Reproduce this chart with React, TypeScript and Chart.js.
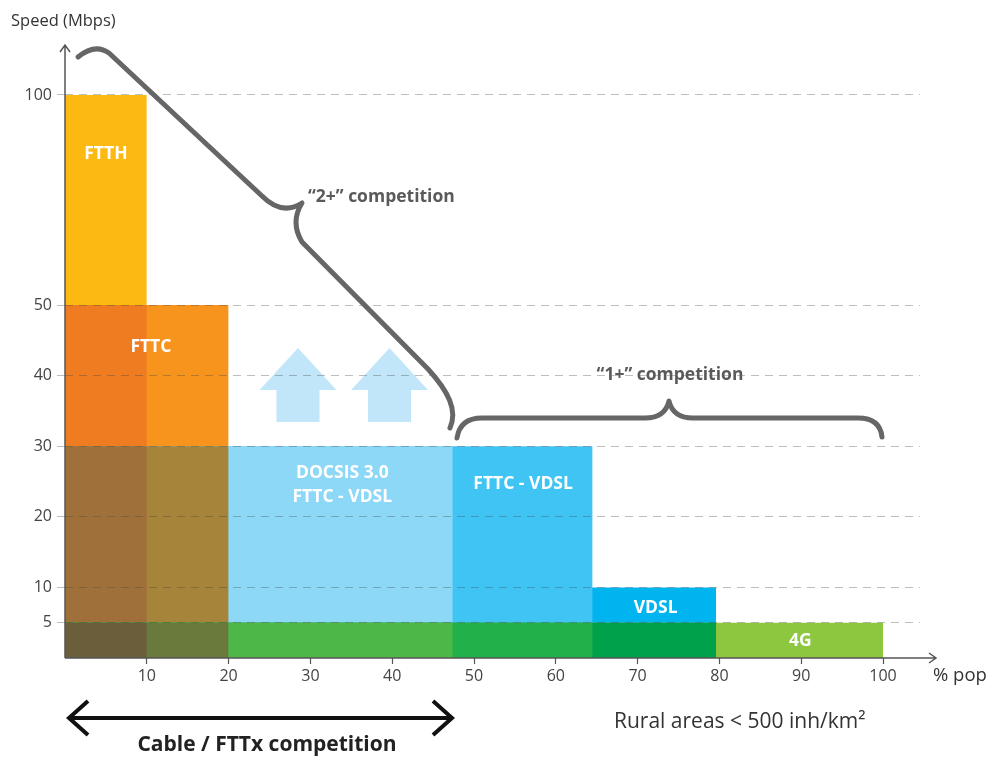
import { useEffect, useRef } from 'react';
import { Chart, registerables } from 'chart.js';

Chart.register(...registerables);

// ---- data ----
const segEdges = [0, 10, 20, 47.4, 64.5, 79.6, 100]; // % pop boundaries
const ftthSpeed = [100, null, null, null, null, null];
const fttcSpeed = [50, 50, null, null, null, null];
const ngaSpeed = [30, 30, 30, 30, 10, null];
const baseSpeed = [5, 5, 5, 5, 5, 5];
const yTickValues = [5, 10, 20, 30, 40, 50, 100];
const xTickValues = [10, 20, 30, 40, 50, 60, 70, 80, 90, 100];
const barLabels = ['FTTH', 'FTTC', 'DOCSIS 3.0|FTTC - VDSL', 'FTTC - VDSL', 'VDSL', '4G'];
const labelPop = [5, 10.5, 33.9, 56, 72.2, 89.9];
const labelSpeed = [86, 44, 24.5, 24.6, 7.1, 2.4];

// ---- styles ----
const ftthColors = ['#FCB912'];
const fttcColors = ['#F07C22', '#F7941E'];
const ngaColors = ['#A0703A', '#A6843A', '#8DD7F7', '#40C4F4', '#00B4EF'];
const baseColors = ['#6A5E3B', '#6A7A3C', '#4DB848', '#22B04B', '#00A14B', '#8DC63F'];

const UPPER_RATIO = 0.595; // axis compression above 50 Mbps
const warp = (v: number) => (v <= 50 ? v : 50 + (v - 50) * UPPER_RATIO);
const unwarp = (w: number) => (w <= 50 ? w : 50 + (w - 50) / UPPER_RATIO);

function buildDatasets() {
  const layers: [Array<number | null>, string[]][] = [
    [ftthSpeed, ftthColors],
    [fttcSpeed, fttcColors],
    [ngaSpeed, ngaColors],
    [baseSpeed, baseColors],
  ];
  const backToFront: any[] = [];
  layers.forEach(([speeds, colors]) => {
    const idx = speeds.map((v, i) => (v == null ? -1 : i)).filter((i) => i >= 0);
    if (!idx.length) return;
    const start = segEdges[idx[0]];
    // later segments sit underneath earlier ones and reach back to the layer start (no seams)
    for (let k = idx.length - 1; k >= 0; k--) {
      const i = idx[k];
      const v = speeds[i] as number;
      backToFront.push({
        data: [
          { x: start, y: warp(v) },
          { x: segEdges[i + 1], y: warp(v) },
        ],
        backgroundColor: colors[i],
        borderColor: 'rgba(0,0,0,0)',
        borderWidth: 0,
        pointRadius: 0,
        fill: 'origin',
        tension: 0,
      });
    }
  });
  return backToFront.reverse(); // front-most first
}

const FONT = "'Open Sans', 'DejaVu Sans', sans-serif";

function upArrow(ctx: CanvasRenderingContext2D, cx: number, tip: number, base: number, hw: number, sw: number, bottom: number) {
  ctx.beginPath();
  ctx.moveTo(cx, tip);
  ctx.lineTo(cx + hw, base);
  ctx.lineTo(cx + sw, base);
  ctx.lineTo(cx + sw, bottom);
  ctx.lineTo(cx - sw, bottom);
  ctx.lineTo(cx - sw, base);
  ctx.lineTo(cx - hw, base);
  ctx.closePath();
  ctx.fill();
}

const decorPlugin = {
  id: 'decor',
  beforeDatasetsDraw(chart: any) {
    const ctx = chart.ctx as CanvasRenderingContext2D;
    ctx.save();
    ctx.fillStyle = '#C2E6F9';
    upArrow(ctx, 298, 348, 390, 38.5, 21.5, 422);
    upArrow(ctx, 389.5, 348, 390, 38.5, 21.5, 422);
    ctx.restore();
  },
  afterDraw(chart: any) {
    const ctx = chart.ctx as CanvasRenderingContext2D;
    const xs = chart.scales.x;
    const ys = chart.scales.y;
    const area = chart.chartArea;
    ctx.save();

    // axes with arrows
    ctx.strokeStyle = '#555';
    ctx.lineWidth = 1.5;
    ctx.beginPath();
    ctx.moveTo(area.left, area.bottom);
    ctx.lineTo(area.left, area.top);
    ctx.moveTo(area.left - 5, area.top + 7);
    ctx.lineTo(area.left, area.top);
    ctx.lineTo(area.left + 5, area.top + 7);
    ctx.moveTo(area.left, area.bottom);
    ctx.lineTo(area.right + 16, area.bottom);
    ctx.moveTo(area.right + 9, area.bottom - 5);
    ctx.lineTo(area.right + 16, area.bottom);
    ctx.lineTo(area.right + 9, area.bottom + 5);
    ctx.stroke();

    // bar labels
    ctx.fillStyle = '#FFFFFF';
    ctx.font = `bold 17.5px ${FONT}`;
    ctx.textAlign = 'center';
    ctx.textBaseline = 'middle';
    barLabels.forEach((t, i) => {
      const px = xs.getPixelForValue(labelPop[i]);
      const py = ys.getPixelForValue(warp(labelSpeed[i]));
      const lines = t.split('|');
      lines.forEach((ln, k) => {
        ctx.fillText(ln, px, py + (k - (lines.length - 1) / 2) * 24);
      });
    });

    // braces
    ctx.strokeStyle = '#666';
    ctx.lineWidth = 5;
    ctx.lineCap = 'round';
    ctx.lineJoin = 'round';
    ctx.beginPath();
    ctx.moveTo(78, 57);
    ctx.quadraticCurveTo(95, 43, 109, 53);
    ctx.lineTo(262, 196);
    ctx.quadraticCurveTo(282, 216, 302, 203);
    ctx.quadraticCurveTo(290, 222, 302, 242);
    ctx.lineTo(428, 369);
    ctx.bezierCurveTo(448, 391, 458, 410, 450, 428);
    ctx.stroke();

    ctx.beginPath();
    ctx.moveTo(457, 438);
    ctx.quadraticCurveTo(460, 418, 482, 418);
    ctx.lineTo(645, 418);
    ctx.quadraticCurveTo(665, 418, 669, 401);
    ctx.quadraticCurveTo(673, 418, 693, 418);
    ctx.lineTo(858, 418);
    ctx.quadraticCurveTo(880, 418, 882, 437);
    ctx.stroke();

    // double arrow
    ctx.strokeStyle = '#111';
    ctx.lineWidth = 4;
    ctx.lineCap = 'butt';
    ctx.lineJoin = 'miter';
    ctx.beginPath();
    ctx.moveTo(70, 718);
    ctx.lineTo(451, 718);
    ctx.moveTo(88, 701);
    ctx.lineTo(69, 718);
    ctx.lineTo(88, 735);
    ctx.moveTo(433, 701);
    ctx.lineTo(452, 718);
    ctx.lineTo(433, 735);
    ctx.stroke();

    // texts
    ctx.textBaseline = 'middle';
    ctx.fillStyle = '#5a5a5a';
    ctx.font = `bold 17.5px ${FONT}`;
    ctx.textAlign = 'left';
    ctx.fillText('\u201C2+\u201D competition', 308, 197);
    ctx.textAlign = 'center';
    ctx.fillText('\u201C1+\u201D competition', 670, 375);

    ctx.fillStyle = '#222';
    ctx.font = `bold 21px ${FONT}`;
    ctx.fillText('Cable / FTTx competition', 267, 745);

    ctx.fillStyle = '#333';
    ctx.textAlign = 'left';
    ctx.font = `21px ${FONT}`;
    ctx.fillText('Rural areas < 500 inh/km\u00B2', 614, 722);

    ctx.font = `16.5px ${FONT}`;
    ctx.fillText('Speed (Mbps)', 11, 21);
    ctx.font = `18.5px ${FONT}`;
    ctx.fillText('% pop', 933, 676);

    ctx.restore();
  },
};

export default function App() {
  const ref = useRef<HTMLCanvasElement>(null);
  useEffect(() => {
    const canvas = ref.current;
    if (!canvas) return;
    Chart.defaults.font.family = FONT;
    const chart = new Chart(canvas, {
      type: 'line',
      data: { datasets: buildDatasets() },
      options: {
        animation: false,
        responsive: false,
        layout: { padding: { left: 8, right: 68, top: 45, bottom: 0 } },
        plugins: {
          legend: { display: false },
          tooltip: { enabled: false },
        },
        scales: {
          x: {
            type: 'linear',
            min: 0,
            max: 104.52,
            afterFit: (s: any) => {
              s.height = 100;
            },
            afterBuildTicks: (s: any) => {
              s.ticks = xTickValues.map((v) => ({ value: v }));
            },
            ticks: {
              autoSkip: false,
              maxRotation: 0,
              padding: 3,
              color: '#444',
              font: { size: 16 },
              callback: (v: any) => String(v),
            },
            grid: {
              display: true,
              drawOnChartArea: false,
              drawTicks: true,
              tickLength: 6,
              tickColor: '#555',
              tickWidth: 1.2,
            },
            border: { display: false },
          },
          y: {
            type: 'linear',
            min: 0,
            max: 86.83,
            afterFit: (s: any) => {
              s.width = 57;
            },
            afterBuildTicks: (s: any) => {
              s.ticks = yTickValues.map((v) => ({ value: warp(v) }));
            },
            ticks: {
              autoSkip: false,
              padding: 5,
              color: '#444',
              font: { size: 16 },
              callback: (v: any) => String(Math.round(unwarp(Number(v)))),
            },
            grid: {
              z: 1,
              color: 'rgba(70,70,70,0.35)',
              lineWidth: 1,
              tickLength: 8,
              tickColor: 'rgba(70,70,70,0.35)',
              borderDash: [8, 6],
              tickBorderDash: [8, 6],
            } as any,
            border: { display: false, dash: [8, 6] },
          },
        },
      } as any,
      plugins: [decorPlugin],
    });
    return () => chart.destroy();
  }, []);
  return (
    <div style={{ position: 'fixed', left: 0, top: 0, width: 988, height: 758, background: '#fff' }}>
      <canvas ref={ref} width={988} height={758} style={{ display: 'block', width: 988, height: 758 }} />
    </div>
  );
}
